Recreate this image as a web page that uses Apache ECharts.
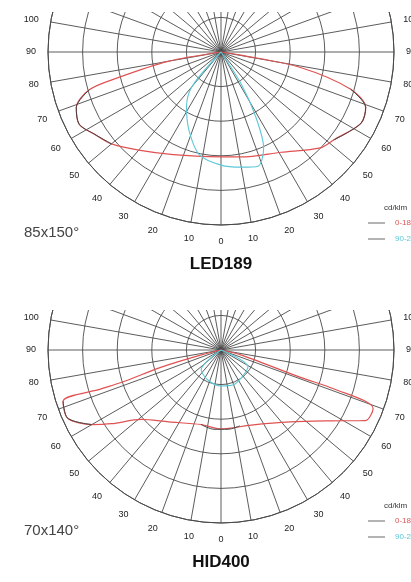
<!DOCTYPE html>
<html>
<head>
<meta charset="utf-8">
<script src="https://cdn.jsdelivr.net/npm/echarts@6/dist/echarts.min.js"></script>
<style>
  html, body { margin: 0; padding: 0; background: #fff; }
  #wrap { position: relative; width: 411px; height: 582px; overflow: hidden; }
  .chart { position: absolute; left: 0; width: 411px; }
  #led { top: 12px; height: 278px; }
  #hid { top: 310px; height: 272px; }
</style>
</head>
<body>
<div id="wrap">
  <div id="led" class="chart"></div>
  <div id="hid" class="chart"></div>
</div>
<script>
// [gamma, cd/klm]; gamma > 0 is the left half, gamma < 0 the right half
const led189C0 = [
  [85, 0], [80, 156], [76, 306], [74, 396], [69, 448], [63, 460], [57, 436], [50, 413],
  [40, 370], [25, 327], [0, 303], [-11, 309], [-31, 338], [-46, 399], [-52, 413],
  [-63, 454], [-69, 448], [-74, 390], [-79, 234], [-81, 58], [-85, 0]
];
const led189C90 = [
  [45, 0], [40, 130], [32, 188], [22, 246], [12, 303], [0, 327], [-10, 338],
  [-18, 347], [-24, 303], [-28, 217], [-32, 116], [-35, 0]
];
const led189SideL = [[74, 396], [69, 448], [63, 460], [57, 436], [50, 413]];
const led189SideR = [[-52, 413], [-63, 454], [-69, 448], [-74, 390]];

const hid400C0 = [
  [80, 0], [76, 61], [74, 179], [72, 295], [72, 364], [72, 480], [66, 485], [60, 431],
  [56, 381], [49, 306], [36, 257], [15, 223], [0, 228], [-22, 234], [-44, 289],
  [-57, 376], [-64, 465], [-69, 471], [-71, 344], [-71, 243], [-76, 61], [-80, 0]
];
const hid400C90 = [
  [50, 0], [45, 81], [23, 95], [0, 104], [-20, 107], [-40, 98], [-58, 92], [-60, 0]
];
const hid400SideL = [[72, 480], [66, 485], [60, 431]];
const hid400Bump = [[15, 223], [5, 230], [-5, 230], [-14, 226]];

const angleLabels = [0, 10, 20, 30, 40, 50, 60, 70, 80, 90, 100];
const planeNames = ['0-180', '90-270'];

const RED = '#e05252';
const CYAN = '#5cc8d8';
const GRID = '#4a4a4a';
const FONT = 'Liberation Sans, Arial, sans-serif';

function toPolar(pts) {
  return pts.map(p => [p[1], p[0] >= 0 ? p[0] : 360 + p[0]]);
}

function lineSeries(name, pts, color, width, z) {
  return {
    name: name,
    type: 'line',
    coordinateSystem: 'polar',
    data: toPolar(pts),
    showSymbol: false,
    smooth: 0.3,
    silent: true,
    z: z,
    lineStyle: { color: color, width: width },
    itemStyle: { color: color }
  };
}

function makeOption(c0, c90, extras, title, beam) {
  return {
    animation: false,
    textStyle: { fontFamily: FONT },
    polar: { center: [221, 40], radius: 173 },
    angleAxis: {
      type: 'value',
      min: 0,
      max: 360,
      interval: 10,
      startAngle: 270,
      clockwise: true,
      axisLine: { lineStyle: { color: GRID, width: 1 } },
      axisTick: { show: false },
      splitLine: { lineStyle: { color: GRID, width: 0.9 } },
      axisLabel: {
        margin: 12,
        fontSize: 9,
        color: '#222',
        formatter: function (v) {
          if (v >= 360) return '';
          const g = v <= 180 ? v : 360 - v;
          return angleLabels.indexOf(g) >= 0 ? String(g) : '';
        }
      }
    },
    radiusAxis: {
      min: 0,
      max: 500,
      interval: 100,
      axisLine: { show: false },
      axisTick: { show: false },
      axisLabel: { show: false },
      splitLine: { lineStyle: { color: GRID, width: 0.9 } }
    },
    legend: {
      orient: 'vertical',
      left: 368,
      top: 206,
      padding: 0,
      icon: 'rect',
      itemWidth: 17,
      itemHeight: 1,
      itemGap: 6,
      selectedMode: false,
      itemStyle: { color: '#666' },
      textStyle: { fontSize: 8, lineHeight: 10, padding: [0, 0, 0, 5] },
      data: [
        { name: planeNames[0], textStyle: { color: RED } },
        { name: planeNames[1], textStyle: { color: CYAN } }
      ]
    },
    graphic: [
      { type: 'text', x: 221, y: 252, style: { text: title, align: 'center', verticalAlign: 'middle', font: 'bold 17px ' + FONT, fill: '#111' } },
      { type: 'text', x: 24, y: 221, style: { text: beam, align: 'left', verticalAlign: 'middle', font: '15px ' + FONT, fill: '#444' } },
      { type: 'text', x: 384, y: 196, style: { text: 'cd/klm', align: 'left', verticalAlign: 'middle', font: '8px ' + FONT, fill: '#333' } }
    ],
    series: [
      lineSeries(planeNames[0], c0, RED, 1.2, 3),
      lineSeries(planeNames[1], c90, CYAN, 1.1, 3)
    ].concat(extras.map(e => lineSeries('', e, '#444', 1, 4)))
  };
}

const led = echarts.init(document.getElementById('led'));
led.setOption(makeOption(led189C0, led189C90, [led189SideL, led189SideR], 'LED189', '85x150°'));

const hid = echarts.init(document.getElementById('hid'));
hid.setOption(makeOption(hid400C0, hid400C90, [hid400SideL, hid400Bump], 'HID400', '70x140°'));
</script>
</body>
</html>
